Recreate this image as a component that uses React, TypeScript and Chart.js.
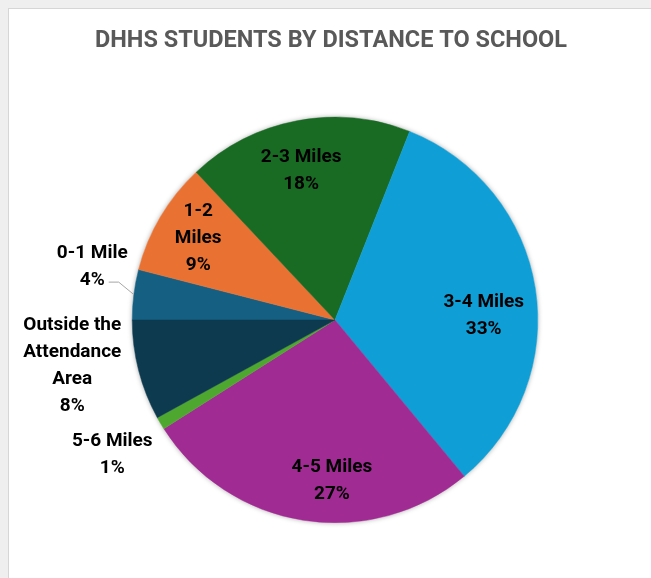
import React, { useEffect, useRef } from "react";
import { Chart, registerables } from "chart.js";

Chart.register(...registerables);

const TITLE = "DHHS STUDENTS BY DISTANCE TO SCHOOL";

const categories = [
  "0-1 Mile",
  "1-2 Miles",
  "2-3 Miles",
  "3-4 Miles",
  "4-5 Miles",
  "5-6 Miles",
  "Outside the Attendance Area",
];

const values = [4, 9, 18, 33, 27, 1, 8];

const sliceColors = [
  "#156082",
  "#E97132",
  "#196B24",
  "#0F9ED5",
  "#A02B93",
  "#4EA72E",
  "#0D3A4E",
];

// How each category name is wrapped in its data label
const labelNameLines = [
  ["0-1 Mile"],
  ["1-2", "Miles"],
  ["2-3 Miles"],
  ["3-4 Miles"],
  ["4-5 Miles"],
  ["5-6 Miles"],
  ["Outside the", "Attendance", "Area"],
];

// Label placement: angle shift (deg) from the slice middle, distance in radius units
const labelAngleShift = [5.2, 0.15, -2, 7.2, -7.9, -0.5, 4.6];
const labelRadiusFactor = [1.226, 0.785, 0.755, 0.734, 0.793, 1.283, 1.315];
const leaderLineFor = [true, false, false, false, false, false, false];

const LABEL_FONT = "bold 19px Roboto, 'DejaVu Sans', sans-serif";
const LINE_H = 27;

const pieExtras = {
  id: "pieExtras",
  beforeDatasetsDraw(chart: any) {
    const meta = chart.getDatasetMeta(0);
    const arc = meta.data[0];
    if (!arc) return;
    const ctx = chart.ctx;
    ctx.save();
    ctx.shadowColor = "rgba(0,0,0,0.35)";
    ctx.shadowBlur = 5;
    ctx.fillStyle = "#ffffff";
    ctx.beginPath();
    ctx.arc(arc.x, arc.y, arc.outerRadius, 0, Math.PI * 2);
    ctx.fill();
    ctx.restore();
  },
  afterDatasetsDraw(chart: any) {
    const ctx = chart.ctx;
    const meta = chart.getDatasetMeta(0);
    const total = values.reduce((a, b) => a + b, 0);
    ctx.save();
    ctx.font = LABEL_FONT;
    ctx.fillStyle = "#000000";
    ctx.textAlign = "center";
    ctx.textBaseline = "middle";
    meta.data.forEach((arc: any, i: number) => {
      const r = arc.outerRadius;
      const mid = (arc.startAngle + arc.endAngle) / 2;
      const a = mid + (labelAngleShift[i] * Math.PI) / 180;
      const lx = arc.x + Math.cos(a) * r * labelRadiusFactor[i];
      const ly = arc.y + Math.sin(a) * r * labelRadiusFactor[i];
      const pct = Math.round((values[i] / total) * 100) + "%";
      const lines = [...labelNameLines[i], pct];
      const top = ly - ((lines.length - 1) * LINE_H) / 2;
      lines.forEach((t, k) => ctx.fillText(t, lx, top + k * LINE_H));
      if (leaderLineFor[i]) {
        const ex = arc.x + Math.cos(mid) * r;
        const ey = arc.y + Math.sin(mid) * r;
        const pctW = ctx.measureText(pct).width;
        const yLine = top + (lines.length - 1) * LINE_H + 2;
        const endX = lx + pctW / 2 + 4;
        const elbowX = endX + 10;
        ctx.save();
        ctx.strokeStyle = "#a6a6a6";
        ctx.lineWidth = 1;
        ctx.beginPath();
        ctx.moveTo(ex, ey);
        ctx.lineTo(elbowX, yLine);
        ctx.lineTo(endX, yLine);
        ctx.stroke();
        ctx.restore();
      }
    });
    ctx.restore();
  },
  afterDraw(chart: any) {
    const ctx = chart.ctx;
    ctx.save();
    ctx.font = "bold 23.5px Roboto, 'DejaVu Sans', sans-serif";
    ctx.fillStyle = "#595959";
    ctx.textAlign = "center";
    ctx.textBaseline = "middle";
    ctx.fillText(TITLE, chart.width / 2 + 1, 32);
    ctx.restore();
  },
};

export default function App() {
  const ref = useRef<HTMLCanvasElement | null>(null);

  useEffect(() => {
    document.documentElement.style.background = "#efefef";
    document.body.style.margin = "8px 0 0 8px";
    const canvas = ref.current;
    if (!canvas) return;
    const chart = new Chart(canvas, {
      type: "pie",
      data: {
        labels: categories,
        datasets: [
          {
            data: values,
            backgroundColor: sliceColors,
            borderColor: sliceColors,
            borderWidth: 0.5,
          },
        ],
      },
      options: {
        responsive: false,
        maintainAspectRatio: false,
        animation: false,
        rotation: 270,
        layout: { padding: { left: 123, right: 113, top: 108, bottom: 55 } },
        plugins: {
          legend: { display: false },
          tooltip: { enabled: false },
          title: { display: false },
        },
      },
      plugins: [pieExtras],
    });
    return () => chart.destroy();
  }, []);

  return (
    <div
      style={{
        width: 642,
        height: 569,
        background: "#ffffff",
        borderLeft: "1px solid #d6d6d6",
        borderTop: "1px solid #d6d6d6",
      }}
    >
      <canvas ref={ref} width={642} height={569} style={{ display: "block" }} />
    </div>
  );
}
